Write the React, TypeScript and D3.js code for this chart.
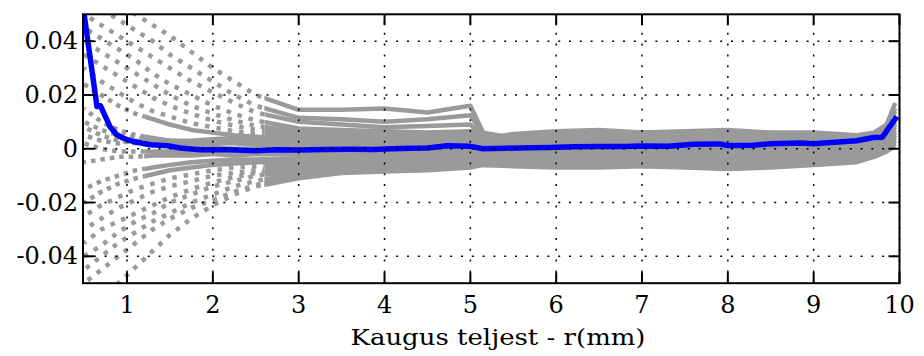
import React from "react";
import * as d3 from "d3";

// shared x positions (mm) for the gray profiles
const X = [0.5, 0.7, 0.9, 1.1, 1.3, 1.5, 1.75, 2.0, 2.25, 2.5, 3.0, 3.5, 4.0, 4.5, 5.0, 5.15, 5.5, 6.0, 6.5, 7.0, 7.5, 8.0, 8.5, 9.0, 9.5, 9.7, 9.85, 9.95];

// gray profiles, values in units of 0.001
const U1 = [62, 58, 54, 50, 46, 42, 36, 30, 25, 20, 14.5, 14.5, 15, 13.5, 16, 6, 4, 5, 6, 6, 5, 5.5, 5, 5, 5, 6, 9, 17];
const U2 = [56, 52, 48, 44, 40, 35, 30, 25, 20, 16, 11.5, 11, 10, 11, 12.5, 5, 3, 4, 5, 4, 4, 4, 4, 3.5, 4, 5, 8, 14];
const U3 = [50, 46, 42, 38, 34, 30, 25, 21, 17, 13.5, 10, 9, 8, 8.5, 9, 4, 2, 3, 3.5, 3, 3, 3.5, 3, 3, 3.5, 4, 7, 12];
const U4 = [45, 41, 37, 33, 28, 24, 20, 16, 13, 10.5, 7.5, 7, 6.5, 6, 6.5, 3.5, 5.5, 6.5, 7, 6, 6.5, 7, 6, 6, 5, 5, 8, 15];
const U5 = [40, 36, 32, 28, 24, 20, 16, 13, 10.5, 8.5, 6.5, 6, 6, 5, 5.5, 4, 4.5, 5, 5.5, 5, 5, 5.5, 5, 4.5, 4.5, 4, 6, 12];
const U6 = [35, 31, 27, 23, 19, 16, 13, 10.5, 8.5, 7, 5.5, 5, 4.5, 4.5, 4.8, 3, 3, 3.5, 4, 3.5, 3.5, 4, 3.5, 3.5, 3.5, 3, 5, 10];
const U7 = [30, 25, 21, 17, 14, 12, 9.5, 8, 6.5, 5.5, 4, 3.5, 3.5, 3, 3.5, 2, 2, 2.5, 2.5, 2.5, 2, 2.5, 2.5, 2, 2.5, 2.5, 4, 9];
const U8 = [24, 20, 16, 13, 11, 9, 7, 6, 5, 4.5, 3.5, 3, 2.5, 2.5, 2.5, 1.5, 1.5, 2, 2, 1.5, 1.5, 2, 1.5, 1.5, 1.5, 2, 3, 7];
const M1 = [15, 10, 7, 5, 4, 3, 2.5, 2, 2, 1.5, 1.5, 1, 1, 1.5, 2, 1, 1, 1.5, 1.5, 1, 1, 1.5, 1, 1, 1.5, 1.5, 2.5, 6];
const M2 = [8, 5, 3, 2, 1.5, 1, 0.5, 0.5, 0, 0, 0, -0.5, 0, 0, 0.5, 0, 0, 0.5, 0.5, 0.5, 0, 0.5, 0.5, 0.5, 0.5, 1, 2, 4];
const M3 = [2, 0, -1, -1, -1, -1, -1.5, -1, -1, -1.5, -1, -1, -1.5, -1, -0.5, -1, -1, -0.5, -0.5, -0.5, -1, -0.5, -0.5, -0.5, 0, 0.5, 1, 3];
const M4 = [-5, -4, -3, -3, -2.5, -2.5, -2.5, -2, -2.5, -2, -2, -2.5, -2, -2, -1.5, -2, -2, -1.5, -1.5, -1.5, -2, -1.5, -1.5, -1, -1, -0.5, 0, 2];
const M5 = [5, 3, 2, 3, 2.5, 2, 2, 1.5, 3, 2.5, 2.5, 2, 2.5, 2, 3, 2.5, 2.5, 3, 3, 2.5, 3, 3, 3, 2.5, 2.5, 3, 4, 8];
const M6 = [10, 7, 5, 4, 3.5, 3, 3, 3.5, 4, 4, 4.5, 4, 4, 3.5, 4, 2, 2, 2, 2.5, 2, 2, 2, 2.5, 2, 2, 2, 3.5, 9];
const L1 = [-60, -55, -50, -44, -38, -32, -26, -21, -17, -14, -11, -9, -8.5, -8, -7, -6, -6.5, -7, -7, -6.5, -7, -7.5, -7, -6, -5, -3, -1, 1];
const L2 = [-50, -45, -40, -35, -30, -26, -22, -19, -16, -13.5, -10, -8, -7.5, -7, -6.5, -6, -6, -6, -5.5, -6, -6, -6.5, -6, -5.5, -4.5, -3, -1, 2];
const L3 = [-45, -40, -35, -31, -27, -24, -20, -17, -14, -12, -9, -7.5, -7, -6.5, -6, -5, -5, -5, -5, -5, -5, -5, -5, -4.5, -4, -2.5, 0, 3];
const L4 = [-40, -36, -31, -27, -24, -20, -17, -14, -12, -10, -8, -7, -6, -6, -5.5, -4.5, -4.5, -4, -4.5, -4, -4, -4.5, -4, -3.5, -3.5, -2, 0, 3];
const L5 = [-35, -30, -27, -24, -21, -18, -15, -12.5, -10.5, -9, -7, -6, -5.5, -5, -5, -4, -4, -3.5, -3.5, -3.5, -3.5, -3.5, -3.5, -3, -3, -2, 0.5, 4];
const L6 = [-30, -26, -22, -19, -16, -14, -12, -10, -9, -8, -6.5, -5.5, -5, -4.5, -4.5, -3.5, -3.5, -3, -3, -3, -3, -3, -3, -2.5, -2.5, -1.5, 1, 5];
const L7 = [-25, -21, -18, -15, -13, -11, -9.5, -8, -7, -6.5, -5.5, -5, -4.5, -4, -4, -3, -3, -2.5, -2.5, -2.5, -2.5, -2.5, -2, -2, -2, -1, 1.5, 5];
const L8 = [-20, -16, -13, -11, -9.5, -8, -7, -6, -5.5, -5, -4.5, -4, -4, -3.5, -3.5, -2.5, -2.5, -2, -2, -2, -2, -2, -1.5, -1.5, -1.5, -0.5, 2, 6];
const L9 = [-15, -12, -10, -8, -7, -6, -5, -4.5, -4, -4, -3.5, -3.5, -3, -3, -3, -2, -2, -1.5, -1.5, -1.5, -1, -1, -1, -1, -1, 0, 2, 6];
const OUTER = [U1, U2, U3, U4, U5, U6, U7, L1, L2, L3, L4, L5, L6, L7];
const CORE = [U8, M1, M2, M3, M4, M5, M6, L8, L9];

// mean profile (blue), values in units of 0.001
const BLUE_X = [0.45, 0.5, 0.65, 0.69, 0.8, 0.88, 0.95, 1.07, 1.27, 1.47, 1.62, 1.85, 2.2, 2.5, 2.72, 3.0, 3.3, 3.6, 3.9, 4.0, 4.3, 4.5, 4.73, 5.0, 5.15, 5.4, 5.7, 5.93, 6.2, 6.5, 6.8, 7.0, 7.3, 7.6, 7.9, 8.0, 8.3, 8.5, 8.85, 9.0, 9.2, 9.5, 9.7, 9.8, 9.97];
const BLUE_Y = [61, 50, 15.7, 16, 8.3, 5.2, 4.0, 2.7, 1.5, 1.1, 0.3, -0.4, -0.4, -0.7, -0.4, -0.5, -0.3, -0.2, -0.3, -0.1, 0.2, 0.3, 1.1, 0.9, 0.0, 0.2, 0.4, 0.5, 0.7, 0.8, 0.8, 1.0, 0.9, 1.7, 1.8, 1.2, 1.3, 1.9, 2.1, 1.9, 2.3, 3.0, 4.2, 4.3, 12.0];

const X_TICKS = [1, 2, 3, 4, 5, 6, 7, 8, 9, 10];
const Y_TICKS = [0.04, 0.02, 0, -0.02, -0.04];
const Y_TICK_LABELS = ["0.04", "0.02", "0", "-0.02", "-0.04"];
const X_LABEL = "Kaugus teljest - r(mm)";

const W = 924, H = 356;
const L = 83, R = 899.5, T = 14.3, B = 283.2;
const UNIT = 0.001;

export default function App() {
  const x = d3.scaleLinear().domain([0.487, 10]).range([L, R]);
  const y = d3.scaleLinear().domain([-0.05, 0.05]).range([B, T]);
  const split = x(2.6);
  const coreSplit = x(1.2);

  const grayLine = d3
    .line<number>()
    .x((_, i) => x(X[i]))
    .y((v) => y(v * UNIT));
  const blueLine = d3
    .line<number>()
    .x((_, i) => x(BLUE_X[i]))
    .y((v) => y(v * UNIT));

  const font = "'DejaVu Serif', serif";
  const grid = { stroke: "#000", strokeWidth: 1.5, strokeDasharray: "2,8.8", fill: "none" };
  const gray = "#9a9a9a";

  return (
    <svg width={W} height={H} style={{ position: "absolute", left: 0, top: 0, background: "#fff" }}>
      <defs>
        <clipPath id="plot">
          <rect x={L} y={T} width={R - L} height={B - T} />
        </clipPath>
        <clipPath id="leftZone">
          <rect x={L} y={T} width={split - L} height={B - T} />
        </clipPath>
        <clipPath id="rightZone">
          <rect x={split} y={T} width={R - split} height={B - T} />
        </clipPath>
        <clipPath id="coreLeft">
          <rect x={L} y={T} width={coreSplit - L} height={B - T} />
        </clipPath>
        <clipPath id="coreRight">
          <rect x={coreSplit} y={T} width={R - coreSplit} height={B - T} />
        </clipPath>
      </defs>
      <rect x={0} y={0} width={W} height={H} fill="#fff" />
      <g clipPath="url(#leftZone)">
        {OUTER.map((c, i) => (
          <path key={"gl" + i} d={grayLine(c) || ""} fill="none" stroke={gray} strokeWidth={4.5} strokeDasharray="4.5,7" strokeDashoffset={i * 2.3} />
        ))}
      </g>
      <g clipPath="url(#rightZone)">
        {OUTER.map((c, i) => (
          <path key={"gr" + i} d={grayLine(c) || ""} fill="none" stroke={gray} strokeWidth={4.5} strokeLinejoin="round" />
        ))}
      </g>
      <g clipPath="url(#coreLeft)">
        {CORE.map((c, i) => (
          <path key={"cl" + i} d={grayLine(c) || ""} fill="none" stroke={gray} strokeWidth={4.5} strokeDasharray="4.5,5" strokeDashoffset={i * 3} />
        ))}
      </g>
      <g clipPath="url(#coreRight)">
        {CORE.map((c, i) => (
          <path key={"cr" + i} d={grayLine(c) || ""} fill="none" stroke={gray} strokeWidth={4.5} strokeLinejoin="round" />
        ))}
      </g>
      <g clipPath="url(#plot)">
        <path d={blueLine(BLUE_Y) || ""} fill="none" stroke="#0000ff" strokeWidth={5.5} strokeLinejoin="round" />
      </g>
      {/* grid on top */}
      <g>
        {X_TICKS.map((t) => (
          <line key={"vx" + t} x1={x(t)} x2={x(t)} y1={B} y2={T} style={grid} />
        ))}
        {Y_TICKS.map((t) => (
          <line key={"hy" + t} x1={L} x2={R} y1={y(t)} y2={y(t)} style={grid} />
        ))}
      </g>
      {/* ticks */}
      <g stroke="#000" strokeWidth={2}>
        {X_TICKS.map((t) => (
          <g key={"tx" + t}>
            <line x1={x(t)} x2={x(t)} y1={B} y2={B - 11} />
            <line x1={x(t)} x2={x(t)} y1={T} y2={T + 11} />
          </g>
        ))}
        {Y_TICKS.map((t) => (
          <g key={"ty" + t}>
            <line x1={L} x2={L + 11} y1={y(t)} y2={y(t)} />
            <line x1={R} x2={R - 11} y1={y(t)} y2={y(t)} />
          </g>
        ))}
      </g>
      <rect x={L} y={T} width={R - L} height={B - T} fill="none" stroke="#000" strokeWidth={2} />
      {/* labels */}
      <g fontFamily={font} fontSize={24} fill="#000">
        {X_TICKS.map((t) => (
          <text key={"lx" + t} x={x(t)} y={312.7} textAnchor="middle">
            {t}
          </text>
        ))}
        {Y_TICKS.map((t, i) => (
          <text key={"ly" + t} x={78} y={y(t)} textAnchor="end" dominantBaseline="central">
            {Y_TICK_LABELS[i]}
          </text>
        ))}
      </g>
      <text x={498} y={345} textAnchor="middle" fontFamily={font} fontSize={23} fill="#000" textLength={295} lengthAdjust="spacingAndGlyphs">
        {X_LABEL}
      </text>
    </svg>
  );
}
